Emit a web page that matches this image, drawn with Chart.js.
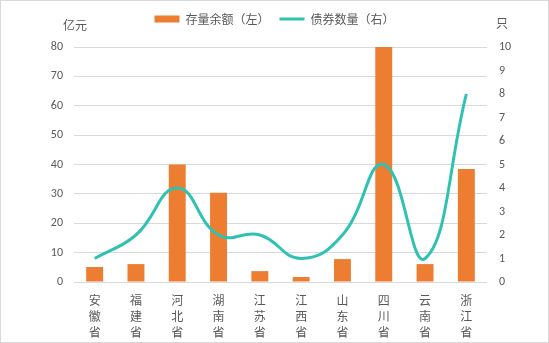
<!DOCTYPE html>
<html>
<head>
<meta charset="utf-8">
<script src="https://cdn.jsdelivr.net/npm/chart.js@4"></script>
<style>
  body { margin: 0; background: #fff; }
  #wrap { width: 549px; height: 343px; }
</style>
</head>
<body>
<div id="wrap"><canvas id="bondChart"></canvas></div>
<script>
// 各省存量余额（亿元）与债券数量（只）
const provinces = ['安徽省', '福建省', '河北省', '湖南省', '江苏省', '江西省', '山东省', '四川省', '云南省', '浙江省'];
const balance = [5.1, 6.1, 40, 30.4, 3.7, 1.7, 7.8, 80, 6.1, 38.5];
const bondCount = [1, 2, 4, 2, 2, 1, 2, 5, 1, 8];

const textColor = '#595959';
const gridColor = '#d9d9d9';
const cjkFont = '"Noto Sans CJK SC", "Microsoft YaHei", sans-serif';

// 图例下方留出单位文字的位置
const legendGap = {
    id: 'legendGap',
    beforeLayout(chart) {
        const legend = chart.legend;
        if (legend && !legend._gapPatched) {
            const fit = legend.fit;
            legend.fit = function () {
                fit.call(this);
                this.height += 12;
            };
            legend._gapPatched = true;
        }
    }
};

// 轴单位文字 + 外框
const extras = {
    id: 'extras',
    afterDraw(chart) {
        const ctx = chart.ctx;
        ctx.save();
        ctx.fillStyle = textColor;
        ctx.font = '12px ' + cjkFont;
        ctx.textBaseline = 'middle';
        ctx.textAlign = 'center';
        ctx.fillText('亿元', 75, 25);
        ctx.fillText('只', 502, 23);
        ctx.strokeStyle = gridColor;
        ctx.lineWidth = 1;
        ctx.strokeRect(0.5, 0.5, chart.width - 1, chart.height - 1);
        ctx.restore();
    }
};

new Chart(document.getElementById('bondChart'), {
    data: {
        labels: provinces.map(p => p.split('')),
        datasets: [{
            type: 'bar',
            label: '存量余额（左）',
            data: balance,
            backgroundColor: '#ed7d31',
            yAxisID: 'y',
            order: 1,
            categoryPercentage: 1,
            barPercentage: 0.41
        }, {
            type: 'line',
            label: '债券数量（右）',
            data: bondCount,
            borderColor: '#2fc1b1',
            backgroundColor: '#2fc1b1',
            borderWidth: 3,
            pointRadius: 0,
            tension: 0.45,
            yAxisID: 'y1',
            order: 0
        }]
    },
    options: {
        responsive: true,
        maintainAspectRatio: false,
        animation: false,
        layout: { padding: { top: 3, right: 0, left: 0, bottom: 0 } },
        plugins: {
            tooltip: { enabled: false },
            legend: {
                position: 'top',
                labels: {
                    usePointStyle: true,
                    pointStyleWidth: 25,
                    boxHeight: 7,
                    padding: 10,
                    color: textColor,
                    font: { size: 12, family: cjkFont },
                    generateLabels(chart) {
                        const items = Chart.defaults.plugins.legend.labels.generateLabels(chart);
                        items.sort((a, b) => a.datasetIndex - b.datasetIndex);
                        items[0].pointStyle = 'rect';
                        items[0].lineWidth = 0;
                        items[1].pointStyle = 'line';
                        items[1].lineWidth = 3;
                        return items;
                    }
                }
            }
        },
        scales: {
            x: {
                grid: { display: false },
                border: { display: false },
                ticks: {
                    color: textColor,
                    maxRotation: 0,
                    autoSkip: false,
                    padding: 3,
                    font: { size: 12, family: cjkFont, lineHeight: 1.3 }
                },
                afterFit(scale) { scale.height = 61; }
            },
            y: {
                position: 'left',
                min: 0,
                max: 80,
                ticks: {
                    stepSize: 10,
                    color: textColor,
                    padding: 11,
                    font: { size: 12, family: 'Calibri, "Liberation Sans", sans-serif' }
                },
                grid: { color: gridColor, drawTicks: false },
                border: { display: false },
                afterFit(scale) { scale.width = 74; }
            },
            y1: {
                position: 'right',
                min: 0,
                max: 10,
                ticks: {
                    stepSize: 1,
                    color: textColor,
                    padding: 12,
                    font: { size: 12, family: 'Calibri, "Liberation Sans", sans-serif' }
                },
                grid: { display: false, drawTicks: false },
                border: { display: false },
                afterFit(scale) { scale.width = 62; }
            }
        }
    },
    plugins: [legendGap, extras]
});
</script>
</body>
</html>
